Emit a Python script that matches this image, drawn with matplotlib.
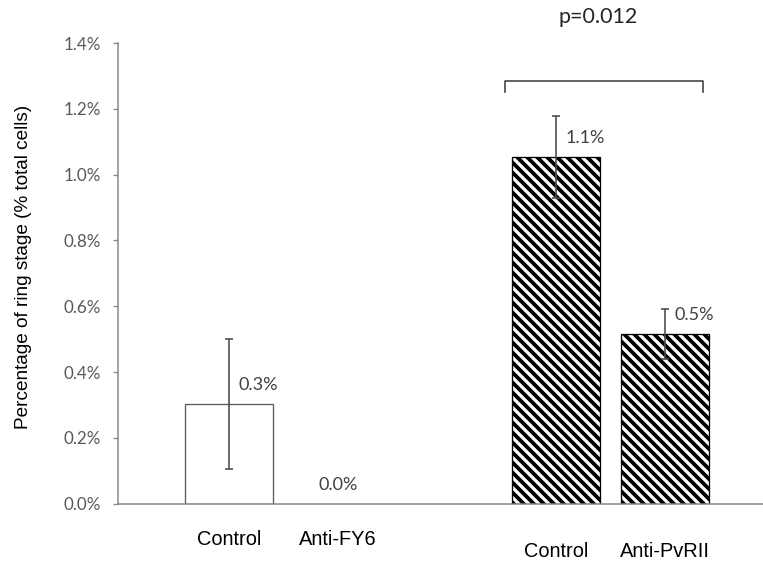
import matplotlib
matplotlib.use('Agg')
import matplotlib.pyplot as plt

BS = chr(92)  # backslash, for the hatch pattern

# values (percent of total cells)
categories = ['Control', 'Anti-FY6', 'Control', 'Anti-PvRII']
positions = [0, 1, 3, 4]
values = [0.302, 0.0, 1.053, 0.516]
errors = [0.197, 0.0, 0.125, 0.076]
value_labels = ['0.3%', '0.0%', '1.1%', '0.5%']
hatches = ['', '', BS * 4, BS * 4]
yticks = [0.0, 0.2, 0.4, 0.6, 0.8, 1.0, 1.2, 1.4]
p_text = 'p=0.012'

DPI = 120


def pt(px):
    # pixel size -> points at this dpi
    return px * 72.0 / DPI


plt.rcParams['hatch.linewidth'] = pt(3.8)
plt.rcParams['hatch.color'] = 'black'

fig = plt.figure(figsize=(763 / DPI, 562 / DPI), dpi=DPI)
ax = fig.add_axes([118 / 763, 1 - 503.7 / 562, 645 / 763, (503.7 - 43) / 562])

spine_col = '#868686'
for i, (x, v, e, h) in enumerate(zip(positions, values, errors, hatches)):
    if v <= 0:
        continue
    ax.bar(x, v, width=0.8, facecolor='white',
           edgecolor='black' if h else '#5a5a5a',
           linewidth=pt(1.3), hatch=h, zorder=2)
    ax.errorbar(x, v, yerr=e, fmt='none', ecolor='#4a4a4a',
                elinewidth=pt(1.6), capsize=pt(4), capthick=pt(1.6), zorder=3)

# data labels
for x, v, lab in zip(positions, values, value_labels):
    dx = 0 if v == 0 else 29
    ax.annotate(lab, xy=(x, v), xytext=(pt(dx), pt(19)), textcoords='offset points',
                ha='center', va='center', fontsize=pt(18), family='Lato',
                color='#404040', zorder=4)

# category labels under the axis, second group sits a bit lower
for x, cat in zip(positions, categories):
    off = 36 if x < 2 else 48
    ax.annotate(cat, xy=(x, 0), xytext=(0, -pt(off)), textcoords='offset points',
                ha='center', va='center', fontsize=pt(20),
                family='Liberation Sans', color='black', annotation_clip=False)

# significance bracket
bx0, bx1, by, bdrop = 2.53, 4.35, 1.285, 0.035
ax.plot([bx0, bx0, bx1, bx1], [by - bdrop, by, by, by - bdrop],
        color='#404040', lw=pt(1.6), clip_on=False, zorder=3)
ax.text(3.39, 1.48, p_text, ha='center', va='center', fontsize=pt(21.5),
        family='Lato', color='#262626', clip_on=False)

ax.set_xlim(-1.018, 4.9)
ax.set_ylim(0, 1.4)
ax.set_yticks(yticks)
ax.set_yticklabels([f'{t:.1f}%' for t in yticks], fontsize=pt(17),
                   family='Lato', color='#595959')
ax.set_xticks([])
ax.tick_params(axis='y', direction='out', length=pt(5), width=pt(1.3),
               color=spine_col, pad=pt(12))

for s in ['top', 'right']:
    ax.spines[s].set_visible(False)
for s in ['left', 'bottom']:
    ax.spines[s].set_color(spine_col)
    ax.spines[s].set_linewidth(pt(1.5))

ax.set_ylabel('Percentage of ring stage (% total cells)', fontsize=pt(19),
              family='Liberation Sans', color='black')
ax.yaxis.set_label_coords(-0.133, 0.515)

fig.savefig('out.png', dpi=DPI)
